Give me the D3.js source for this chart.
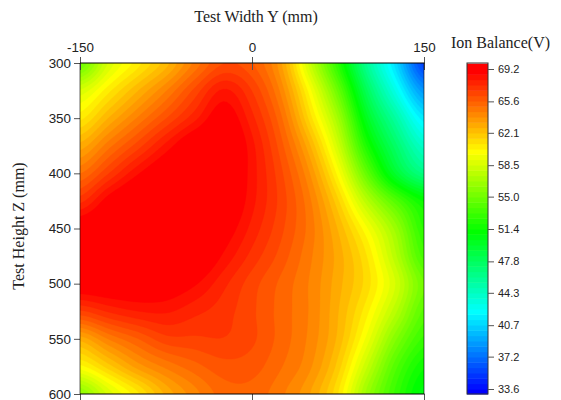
<!DOCTYPE html>
<html><head><meta charset="utf-8">
<script src="https://cdn.jsdelivr.net/npm/d3@7"></script>
<style>html,body{margin:0;padding:0;background:#fff}svg{display:block}</style>
</head><body><svg id="c" width="561" height="400"></svg>
<script>
const widthTicks=[-150,0,150];
const heightTicks=[300,350,400,450,500,550,600];
const gridY=[-150,-125,-100,-75,-50,-25,0,25,50,75,100,125,150];
const gridZ=[300,325,350,375,400,425,450,475,500,525,550,575,600];
const row300=[54.8,58.6,60.6,62.4,64.6,66.2,65.7,63.4,58.2,52.5,46,41,35.5];
const row325=[58.6,60.7,62.6,64.4,66.4,68.1,66.8,64.3,60,54.7,48,43,38.5];
const row350=[60.7,62.7,64.5,66.2,67.8,69.2,67.6,65.2,61.3,56.7,50,45.5,41.5];
const row375=[62.9,64.8,66.5,68.2,69.6,70,68.2,65.9,62.8,58.3,52,47.5,44];
const row400=[65,66.8,68.5,69.6,70,70,68.3,66.4,63.9,60,54.5,49.5,46.5];
const row425=[67.2,69,70,70,70,69.8,68.2,66.6,64.6,61.6,57.5,54,51.3];
const row450=[69.5,70,70,70,70,69.2,67.8,66.4,64.8,62.6,59.8,56.5,52.5];
const row475=[70,70,70,70,69.8,68.5,67.2,66,64.6,63,60.9,57.5,53.5];
const row500=[69.4,69.5,69.5,69.3,68.7,67.6,66.5,65.5,64.4,62.9,61.2,58.5,55];
const row525=[66.7,67.5,68,68.1,67.6,67.1,66.35,65.4,64.4,62.7,60.5,57.5,54.2];
const row550=[62.9,64.5,65.6,66.6,66.7,66.8,66.35,65.4,64.3,62.5,59.5,55.7,53];
const row575=[60.1,61.8,63.5,64.6,65.4,66,65.9,65.1,64,61.8,58,54,51.5];
const row600=[56,58.7,60.7,62.8,64.2,65.3,65.4,64.6,63.3,60.9,56.5,53,50.5];
const colorTicks=[33.6,37.2,40.7,44.3,47.8,51.4,55.0,58.5,62.1,65.6,69.2];
const colorStops=[33.6,42.5,51.4,60.3,69.2];
const colorNames=["#0000ff","#00ffff","#00ff00","#ffff00","#ff0000"];
const bandCount=60;

const rows=[row300,row325,row350,row375,row400,row425,row450,row475,row500,row525,row550,row575,row600];
const svg=d3.select("#c");
const L=80,R=424,T=63,B=394;
const x=d3.scaleLinear().domain([-150,150]).range([L,R]);
const y=d3.scaleLinear().domain([300,600]).range([T,B]);
const color=d3.scaleLinear().domain(colorStops).range(colorNames).clamp(true);
const vmin=colorTicks[0],vmax=colorTicks[colorTicks.length-1],step=(vmax-vmin)/bandCount;
const thresholds=d3.range(-1,bandCount+1).map(i=>vmin+i*step);
// display-only refinement of the read grid so contour edges are drawn smoothly
const K=8,nx=gridY.length,nz=gridZ.length,mx=(nx-1)*K+1,mz=(nz-1)*K+1;
const cr=(a,b,c,d,t)=>b+.5*t*(c-a+t*(2*a-5*b+4*c-d+t*(3*(b-c)+d-a)));
function sample(ix,iz){
  const fx=Math.min(Math.floor(ix/K),nx-2),tx=ix/K-fx,fz=Math.min(Math.floor(iz/K),nz-2),tz=iz/K-fz;
  const at=(i,j)=>rows[Math.max(0,Math.min(nz-1,j))][Math.max(0,Math.min(nx-1,i))];
  const col=j=>cr(at(fx-1,j),at(fx,j),at(fx+1,j),at(fx+2,j),tx);
  return cr(col(fz-1),col(fz),col(fz+1),col(fz+2),tz);
}
const values=[];
for(let j=0;j<mz;j++)for(let i=0;i<mx;i++)values.push(sample(i,j));
const dY=(gridY[1]-gridY[0])/K,dZ=(gridZ[1]-gridZ[0])/K;
const contours=d3.contours().size([mx,mz]).smooth(true).thresholds(thresholds)(values);
const path=d3.geoPath(d3.geoTransform({point(a,b){
  this.stream.point(x(gridY[0]+(a-.5)*dY),y(gridZ[0]+(b-.5)*dZ));}}));
svg.append("defs").append("clipPath").attr("id","plot").append("rect")
  .attr("x",L).attr("y",T).attr("width",R-L).attr("height",B-T);
const g=svg.append("g").attr("clip-path","url(#plot)");
g.selectAll("path").data(contours).join("path").attr("d",path)
  .attr("fill",d=>color(d.value+step)).attr("stroke",d=>color(d.value+step)).attr("stroke-width",.4);

const sans="Arial,'Liberation Sans',sans-serif",serif="'Times New Roman','Liberation Serif',serif";
function styleAxis(a,fs){a.select(".domain").remove();
  a.selectAll("line").attr("stroke","#555").attr("stroke-width",1);
  a.selectAll("text").attr("font-family",sans).attr("font-size",fs).attr("fill","#222");}
const fmt=d=>String(d);
svg.append("g").attr("transform",`translate(${L},0)`)
  .call(d3.axisLeft(y).tickValues(heightTicks).tickFormat(fmt).tickSize(6).tickPadding(3)).call(styleAxis,13.4);
const topAxis=svg.append("g").attr("transform",`translate(0,${T})`)
  .call(d3.axisTop(x).tickValues(widthTicks).tickFormat(fmt).tickSizeInner(6).tickSizeOuter(0).tickPadding(5)).call(styleAxis,13.4);
topAxis.selectAll("line").attr("y1",7).attr("y2",-6);
svg.append("g").attr("transform",`translate(0,${B})`)
  .call(d3.axisBottom(x).tickValues(widthTicks).tickFormat("").tickSize(6)).call(styleAxis,13.4);
svg.append("line").attr("x1",L).attr("x2",R+.5).attr("y1",T).attr("y2",T).attr("stroke","#000").attr("stroke-width",1);
svg.append("line").attr("x1",L).attr("x2",R+.5).attr("y1",B).attr("y2",B).attr("stroke","#000").attr("stroke-width",1);
svg.append("line").attr("x1",L).attr("x2",L).attr("y1",T).attr("y2",B).attr("stroke","#000").attr("stroke-opacity",.6);
svg.append("line").attr("x1",R).attr("x2",R).attr("y1",T).attr("y2",B).attr("stroke","#000").attr("stroke-opacity",.6);

const cbL=467,cbR=488;
const cy=d3.scaleLinear().domain([33.6,69.2]).range([389,69]);
const bands=d3.range(-1,bandCount+1).map(i=>vmin+i*step);
svg.append("g").selectAll("rect").data(bands).join("rect")
  .attr("x",cbL).attr("width",cbR-cbL)
  .attr("y",d=>Math.max(T,cy(d+step)))
  .attr("height",d=>Math.min(B,cy(d))-Math.max(T,cy(d+step))+.5)
  .attr("fill",d=>color(d+step));
svg.append("rect").attr("x",cbL).attr("y",T).attr("width",cbR-cbL).attr("height",B-T)
  .attr("fill","none").attr("stroke","#333");
svg.append("g").attr("transform",`translate(${cbR},0)`)
  .call(d3.axisRight(cy).tickValues(colorTicks).tickFormat(d3.format(".1f")).tickSize(6).tickPadding(4)).call(styleAxis,11);

function label(t,px,py,fs,rot){const e=svg.append("text").text(t).attr("font-family",serif).attr("font-size",fs).attr("fill","#222").attr("text-anchor","middle");
  e.attr("transform",`translate(${px},${py})`+(rot?` rotate(${rot})`:""));}
label("Test Width Y (mm)",256,22,16);
label("Ion Balance(V)",500.5,48,16);
label("Test Height Z (mm)",24,226,16,-90);
</script></body></html>
